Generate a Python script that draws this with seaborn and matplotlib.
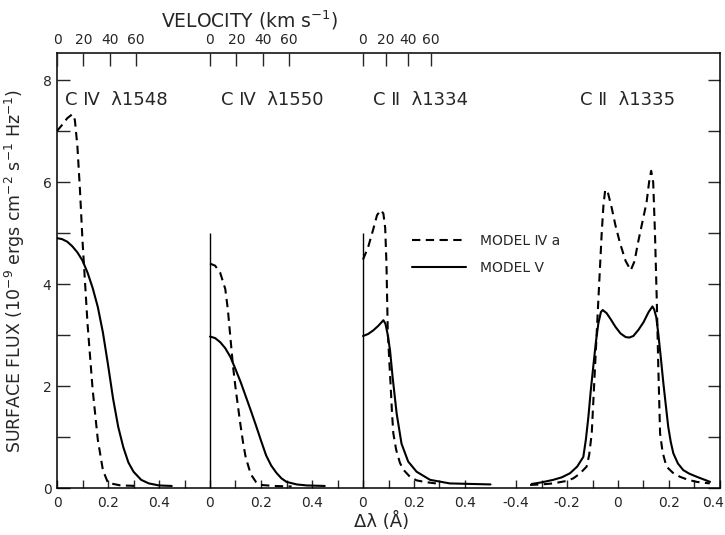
import numpy as np
import matplotlib
matplotlib.use("Agg")
import matplotlib.pyplot as plt
import matplotlib.transforms as mtransforms
import seaborn as sns

# ---- data (delta lambda in Angstrom, surface flux in 1e-9 cgs) ----
# C IV 1548
dl_1548_iva = [0, 0.02, 0.04, 0.06, 0.07, 0.08, 0.09, 0.10, 0.12, 0.14, 0.16, 0.18, 0.20, 0.25, 0.32]
flux_1548_iva = [7.0, 7.12, 7.25, 7.33, 7.22, 6.7, 5.85, 4.85, 3.2, 1.92, 0.95, 0.35, 0.1, 0.05, 0.04]
dl_1548_v = [0, 0.02, 0.04, 0.06, 0.08, 0.10, 0.12, 0.14, 0.16, 0.18, 0.20, 0.22, 0.24, 0.26, 0.28,
             0.30, 0.33, 0.36, 0.40, 0.45]
flux_1548_v = [4.9, 4.88, 4.83, 4.74, 4.62, 4.46, 4.22, 3.92, 3.55, 3.05, 2.42, 1.75, 1.2, 0.8, 0.5,
               0.32, 0.16, 0.09, 0.05, 0.04]

# C IV 1550
dl_1550_iva = [0, 0.02, 0.04, 0.06, 0.07, 0.08, 0.09, 0.10, 0.11, 0.12, 0.13, 0.14, 0.16, 0.18, 0.20, 0.25, 0.32]
flux_1550_iva = [4.4, 4.36, 4.22, 3.9, 3.5, 2.95, 2.4, 1.97, 1.59, 1.22, 0.88, 0.6, 0.27, 0.12, 0.06, 0.04, 0.03]
dl_1550_v = [0, 0.02, 0.04, 0.06, 0.08, 0.10, 0.12, 0.14, 0.16, 0.18, 0.20, 0.22, 0.24, 0.26, 0.28,
             0.30, 0.34, 0.38, 0.45]
flux_1550_v = [2.97, 2.94, 2.86, 2.74, 2.57, 2.33, 2.08, 1.8, 1.52, 1.23, 0.93, 0.64, 0.44, 0.3, 0.19,
               0.12, 0.07, 0.05, 0.04]

# C II 1334
dl_1334_iva = [0, 0.02, 0.04, 0.055, 0.07, 0.08, 0.087, 0.092, 0.097, 0.103, 0.108, 0.114, 0.119,
               0.13, 0.145, 0.16, 0.184, 0.21, 0.24, 0.30]
flux_1334_iva = [4.48, 4.72, 5.07, 5.35, 5.45, 5.38, 5.1, 4.4, 3.1, 2.5, 2.05, 1.45, 1.07,
                 0.75, 0.49, 0.35, 0.22, 0.15, 0.12, 0.08]
dl_1334_v = [0, 0.02, 0.04, 0.06, 0.08, 0.088, 0.096, 0.106, 0.116, 0.132, 0.151, 0.177, 0.21,
             0.263, 0.34, 0.42, 0.50]
flux_1334_v = [2.98, 3.02, 3.09, 3.18, 3.29, 3.22, 3.03, 2.7, 2.18, 1.46, 0.87, 0.52, 0.32,
               0.16, 0.09, 0.08, 0.07]

# C II 1335
dl_1335_iva = [-0.345, -0.30, -0.254, -0.20, -0.175, -0.15, -0.123, -0.113, -0.103, -0.09,
               -0.077, -0.064, -0.057, -0.05, -0.04, -0.025, -0.01, 0.008, 0.03, 0.05,
               0.065, 0.078, 0.095, 0.112, 0.122, 0.13, 0.138, 0.145, 0.152, 0.158,
               0.165, 0.175, 0.19, 0.215, 0.243, 0.275, 0.309, 0.36]
flux_1335_iva = [0.06, 0.07, 0.09, 0.14, 0.19, 0.28, 0.42, 0.65, 1.07, 2.38,
                 3.69, 4.99, 5.55, 5.85, 5.8, 5.5, 5.15, 4.8, 4.45, 4.27,
                 4.45, 4.8, 5.2, 5.6, 6.0, 6.22, 6.0, 4.99, 3.69, 2.38,
                 1.07, 0.7, 0.42, 0.3, 0.22, 0.16, 0.12, 0.09]
dl_1335_v = [-0.338, -0.30, -0.254, -0.22, -0.188, -0.16, -0.136, -0.126, -0.116, -0.107,
             -0.097, -0.087, -0.077, -0.067, -0.06, -0.045, -0.03, -0.01, 0.01, 0.03,
             0.044, 0.06, 0.08, 0.1, 0.12, 0.135, 0.142, 0.15, 0.158, 0.168,
             0.178, 0.188, 0.197, 0.207, 0.217, 0.235, 0.256, 0.28, 0.309, 0.361]
flux_1335_v = [0.08, 0.11, 0.16, 0.21, 0.29, 0.42, 0.61, 0.95, 1.4, 1.9,
               2.38, 2.85, 3.23, 3.45, 3.49, 3.43, 3.32, 3.16, 3.03, 2.96,
               2.95, 2.98, 3.1, 3.25, 3.45, 3.56, 3.5, 3.35, 3.03, 2.55,
               2.05, 1.6, 1.2, 0.9, 0.68, 0.48, 0.35, 0.28, 0.22, 0.12]

panel_titles = ["C Ⅳ  λ1548", "C Ⅳ  λ1550", "C Ⅱ  λ1334", "C Ⅱ  λ1335"]
model_labels = ["MODEL Ⅳ a", "MODEL Ⅴ"]
rest_wavelengths = [1548.2, 1550.8, 1334.5]     # panels with a velocity scale
velocity_ticks = [0, 20, 40, 60]
bottom_tick_labels = ["0", "0.2", "0.4", "0", "0.2", "0.4", "0", "0.2", "0.4",
                      "-0.4", "-0.2", "0", "0.2", "0.4"]

# ---- layout: panels are laid side by side on one shared x axis ----
panel_offsets = [0.0, 0.6, 1.2, 2.2]
title_x = [0.03, 0.645, 1.24, 2.05]
separators = [0.6, 1.2]
C_KMS = 2.998e5

sns.set_style("ticks")
plt.rcParams["font.family"] = ["DejaVu Sans"]
plt.rcParams["xtick.direction"] = "in"
plt.rcParams["ytick.direction"] = "in"

fig = plt.figure(figsize=(7.25, 5.35), dpi=100)
ax = fig.add_axes([57 / 725, 47 / 535, 663 / 725, 435 / 535])

curves = [
    (dl_1548_iva, flux_1548_iva, dl_1548_v, flux_1548_v),
    (dl_1550_iva, flux_1550_iva, dl_1550_v, flux_1550_v),
    (dl_1334_iva, flux_1334_iva, dl_1334_v, flux_1334_v),
    (dl_1335_iva, flux_1335_iva, dl_1335_v, flux_1335_v),
]
dash = (0, (4, 2.6))
for i, (off, (xa, ya, xv, yv)) in enumerate(zip(panel_offsets, curves)):
    sns.lineplot(x=np.array(xa) + off, y=ya, ax=ax, color="black", linewidth=1.5,
                 linestyle=dash, sort=False, estimator=None,
                 label=model_labels[0] if i == 0 else None)
    sns.lineplot(x=np.array(xv) + off, y=yv, ax=ax, color="black", linewidth=1.5,
                 sort=False, estimator=None,
                 label=model_labels[1] if i == 0 else None)

ax.vlines(separators, 0, 5, color="black", linewidth=1.0)

for tx, t in zip(title_x, panel_titles):
    ax.text(tx, 7.6, t, fontsize=13, ha="left", va="center")

ax.set_xlim(0, 2.6)
ax.set_ylim(0, 8.53)

# bottom axis
major_x = np.round(np.arange(0, 2.61, 0.2), 2)
minor_x = [v for v in np.round(np.arange(0.1, 2.6, 0.2), 2) if v != 1.7]
ax.set_xticks(major_x, bottom_tick_labels)
ax.set_xticks(minor_x, minor=True)
ax.tick_params(axis="x", which="both", direction="in", length=6, width=1,
               bottom=True, top=False, labelsize=10, pad=6)
# last label sits on the right edge: nudge it inside the figure
last = ax.get_xticklabels()[-1]
last.set_transform(last.get_transform() +
                   mtransforms.ScaledTranslation(-7 / 100, 0, fig.dpi_scale_trans))

# y axis
ax.set_yticks([0, 2, 4, 6, 8])
ax.set_yticks([1, 3, 5, 7], minor=True)
ax.tick_params(axis="y", which="both", direction="in", length=9, width=1,
               left=True, right=True, labelsize=10, pad=4)

for s in ax.spines.values():
    s.set_linewidth(1.1)
    s.set_color("black")

ax.set_xlabel("Δλ (Å)", fontsize=13)
ax.xaxis.set_label_coords(0.49, -0.055)
ax.set_ylabel("SURFACE FLUX (10$^{-9}$ ergs cm$^{-2}$ s$^{-1}$ Hz$^{-1}$)", fontsize=12.5)
ax.yaxis.set_label_coords(-0.045, 0.5)

# top velocity scale
ax_top = ax.twiny()
ax_top.set_xlim(ax.get_xlim())
top_pos, top_lab = [], []
for off, lam in zip(panel_offsets, rest_wavelengths):
    for v in velocity_ticks:
        top_pos.append(off + lam * v / C_KMS)
        top_lab.append(str(v))
ax_top.set_xticks(top_pos, top_lab)
ax_top.tick_params(axis="x", direction="in", length=9, width=1, labelsize=10, pad=4)
for s in ax_top.spines.values():
    s.set_visible(False)
fig.text(250 / 725, 1 - 20 / 535, "VELOCITY (km s$^{-1}$)", fontsize=13.5,
         ha="center", va="center")

ax.legend(loc="upper left", bbox_to_anchor=(0.535, 0.585), frameon=False,
          fontsize=10, handlelength=3.9, handletextpad=1.0, labelspacing=0.95,
          borderaxespad=0, borderpad=0)

fig.savefig("out.png", dpi=100)
